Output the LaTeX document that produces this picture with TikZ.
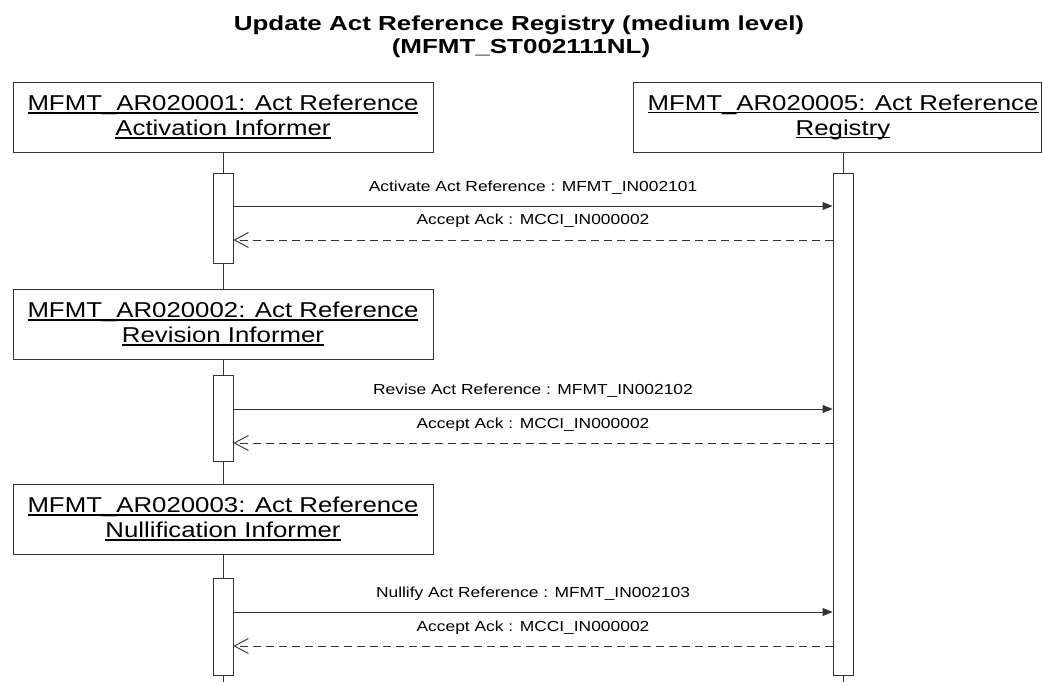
\documentclass[tikz,border=0pt]{standalone}
\usepackage{fontspec}
\setmainfont{Liberation Sans}[FakeStretch=1.2]
\newfontfamily\titlefont{Liberation Sans}[FakeStretch=1.28]
\usetikzlibrary{arrows.meta}
\newsavebox\ulbox
\newcommand\myul[1]{\sbox\ulbox{#1}\rlap{\rule[-2.6pt]{\wd\ulbox}{1.1pt}}\usebox\ulbox}
\definecolor{linec}{HTML}{333333}
\tikzset{
  titletext/.style={anchor=base, inner sep=0pt, font=\titlefont\fontsize{20.3}{24}\selectfont\bfseries},
  rolebox/.style={draw=linec, line width=0.9pt, minimum width=420pt, minimum height=70pt, align=center, inner sep=0pt, font=\fontsize{21.5}{25}\selectfont},
  roletext/.style={align=center, inner sep=0pt, minimum height=70pt, font=\fontsize{21.5}{25}\selectfont},
  actbar/.style={draw=linec, fill=white, line width=0.9pt, minimum width=20pt, inner sep=0pt},
  lifeline/.style={draw=linec, line width=0.9pt},
  msg/.style={draw=linec, line width=0.9pt, -{Triangle[length=10pt,width=8pt]}},
  reply/.style={draw=linec, line width=0.9pt, dash pattern=on 8pt off 5pt, -{Straight Barb[length=14pt,width=15pt,line width=0.9pt]}},
  msglabel/.style={anchor=base, inner sep=0pt, yshift=15pt, font=\fontsize{14.5}{17}\selectfont}
}
\begin{document}
\begin{tikzpicture}[x=1pt, y=-1pt]
\useasboundingbox (0,0) rectangle (1042,682);
% title
\node[titletext] (t1) at (519,31) {Update Act Reference Registry (medium level)};
\node[titletext] (t2) at (521,54) {(MFMT\_ST002111NL)};
% role boxes
\node[rolebox] (b1) at (223,117) {\myul{MFMT\_AR020001: Act Reference}\\\myul{Activation Informer}};
\node[rolebox] (b2) at (223,324) {\myul{MFMT\_AR020002: Act Reference}\\\myul{Revision Informer}};
\node[rolebox] (b3) at (223,519) {\myul{MFMT\_AR020003: Act Reference}\\\myul{Nullification Informer}};
\node[roletext] (b5) at (843,117) {\myul{MFMT\_AR020005: Act Reference}\\\myul{Registry}};
\draw[draw=linec, line width=0.9pt] (633,82) rectangle (1041.5,152);
% coordinates
\coordinate (m1) at (0,206);
\coordinate (r1) at (0,240);
\coordinate (m2) at (0,409);
\coordinate (r2) at (0,443);
\coordinate (m3) at (0,612);
\coordinate (r3) at (0,646);
\coordinate (b5s) at (843,152);
% lifelines
\draw[lifeline] (b1.south) -- (223,173);
\draw[lifeline] (223,263) -- (b2.north);
\draw[lifeline] (b2.south) -- (223,375);
\draw[lifeline] (223,461) -- (b3.north);
\draw[lifeline] (b3.south) -- (223,578);
\draw[lifeline] (223,675) -- (223,682);
\draw[lifeline] (b5s) -- (843,173);
\draw[lifeline] (843,675) -- (843,682);
% activation bars
\node[actbar, minimum height=90pt] (a1) at (223,218) {};
\node[actbar, minimum height=86pt] (a2) at (223,418) {};
\node[actbar, minimum height=97pt] (a3) at (223,626.5) {};
\node[actbar, minimum height=502pt] (ar) at (843,424) {};
% messages
\draw[msg] (a1.east |- m1) -- node[msglabel] (l1) {Activate Act Reference : MFMT\_IN002101} (ar.west |- m1);
\draw[reply] (ar.west |- r1) -- node[msglabel] (l2) {Accept Ack : MCCI\_IN000002} (a1.east |- r1);
\draw[msg] (a2.east |- m2) -- node[msglabel] (l3) {Revise Act Reference : MFMT\_IN002102} (ar.west |- m2);
\draw[reply] (ar.west |- r2) -- node[msglabel] (l4) {Accept Ack : MCCI\_IN000002} (a2.east |- r2);
\draw[msg] (a3.east |- m3) -- node[msglabel] (l5) {Nullify Act Reference : MFMT\_IN002103} (ar.west |- m3);
\draw[reply] (ar.west |- r3) -- node[msglabel] (l6) {Accept Ack : MCCI\_IN000002} (a3.east |- r3);
\end{tikzpicture}
\end{document}
